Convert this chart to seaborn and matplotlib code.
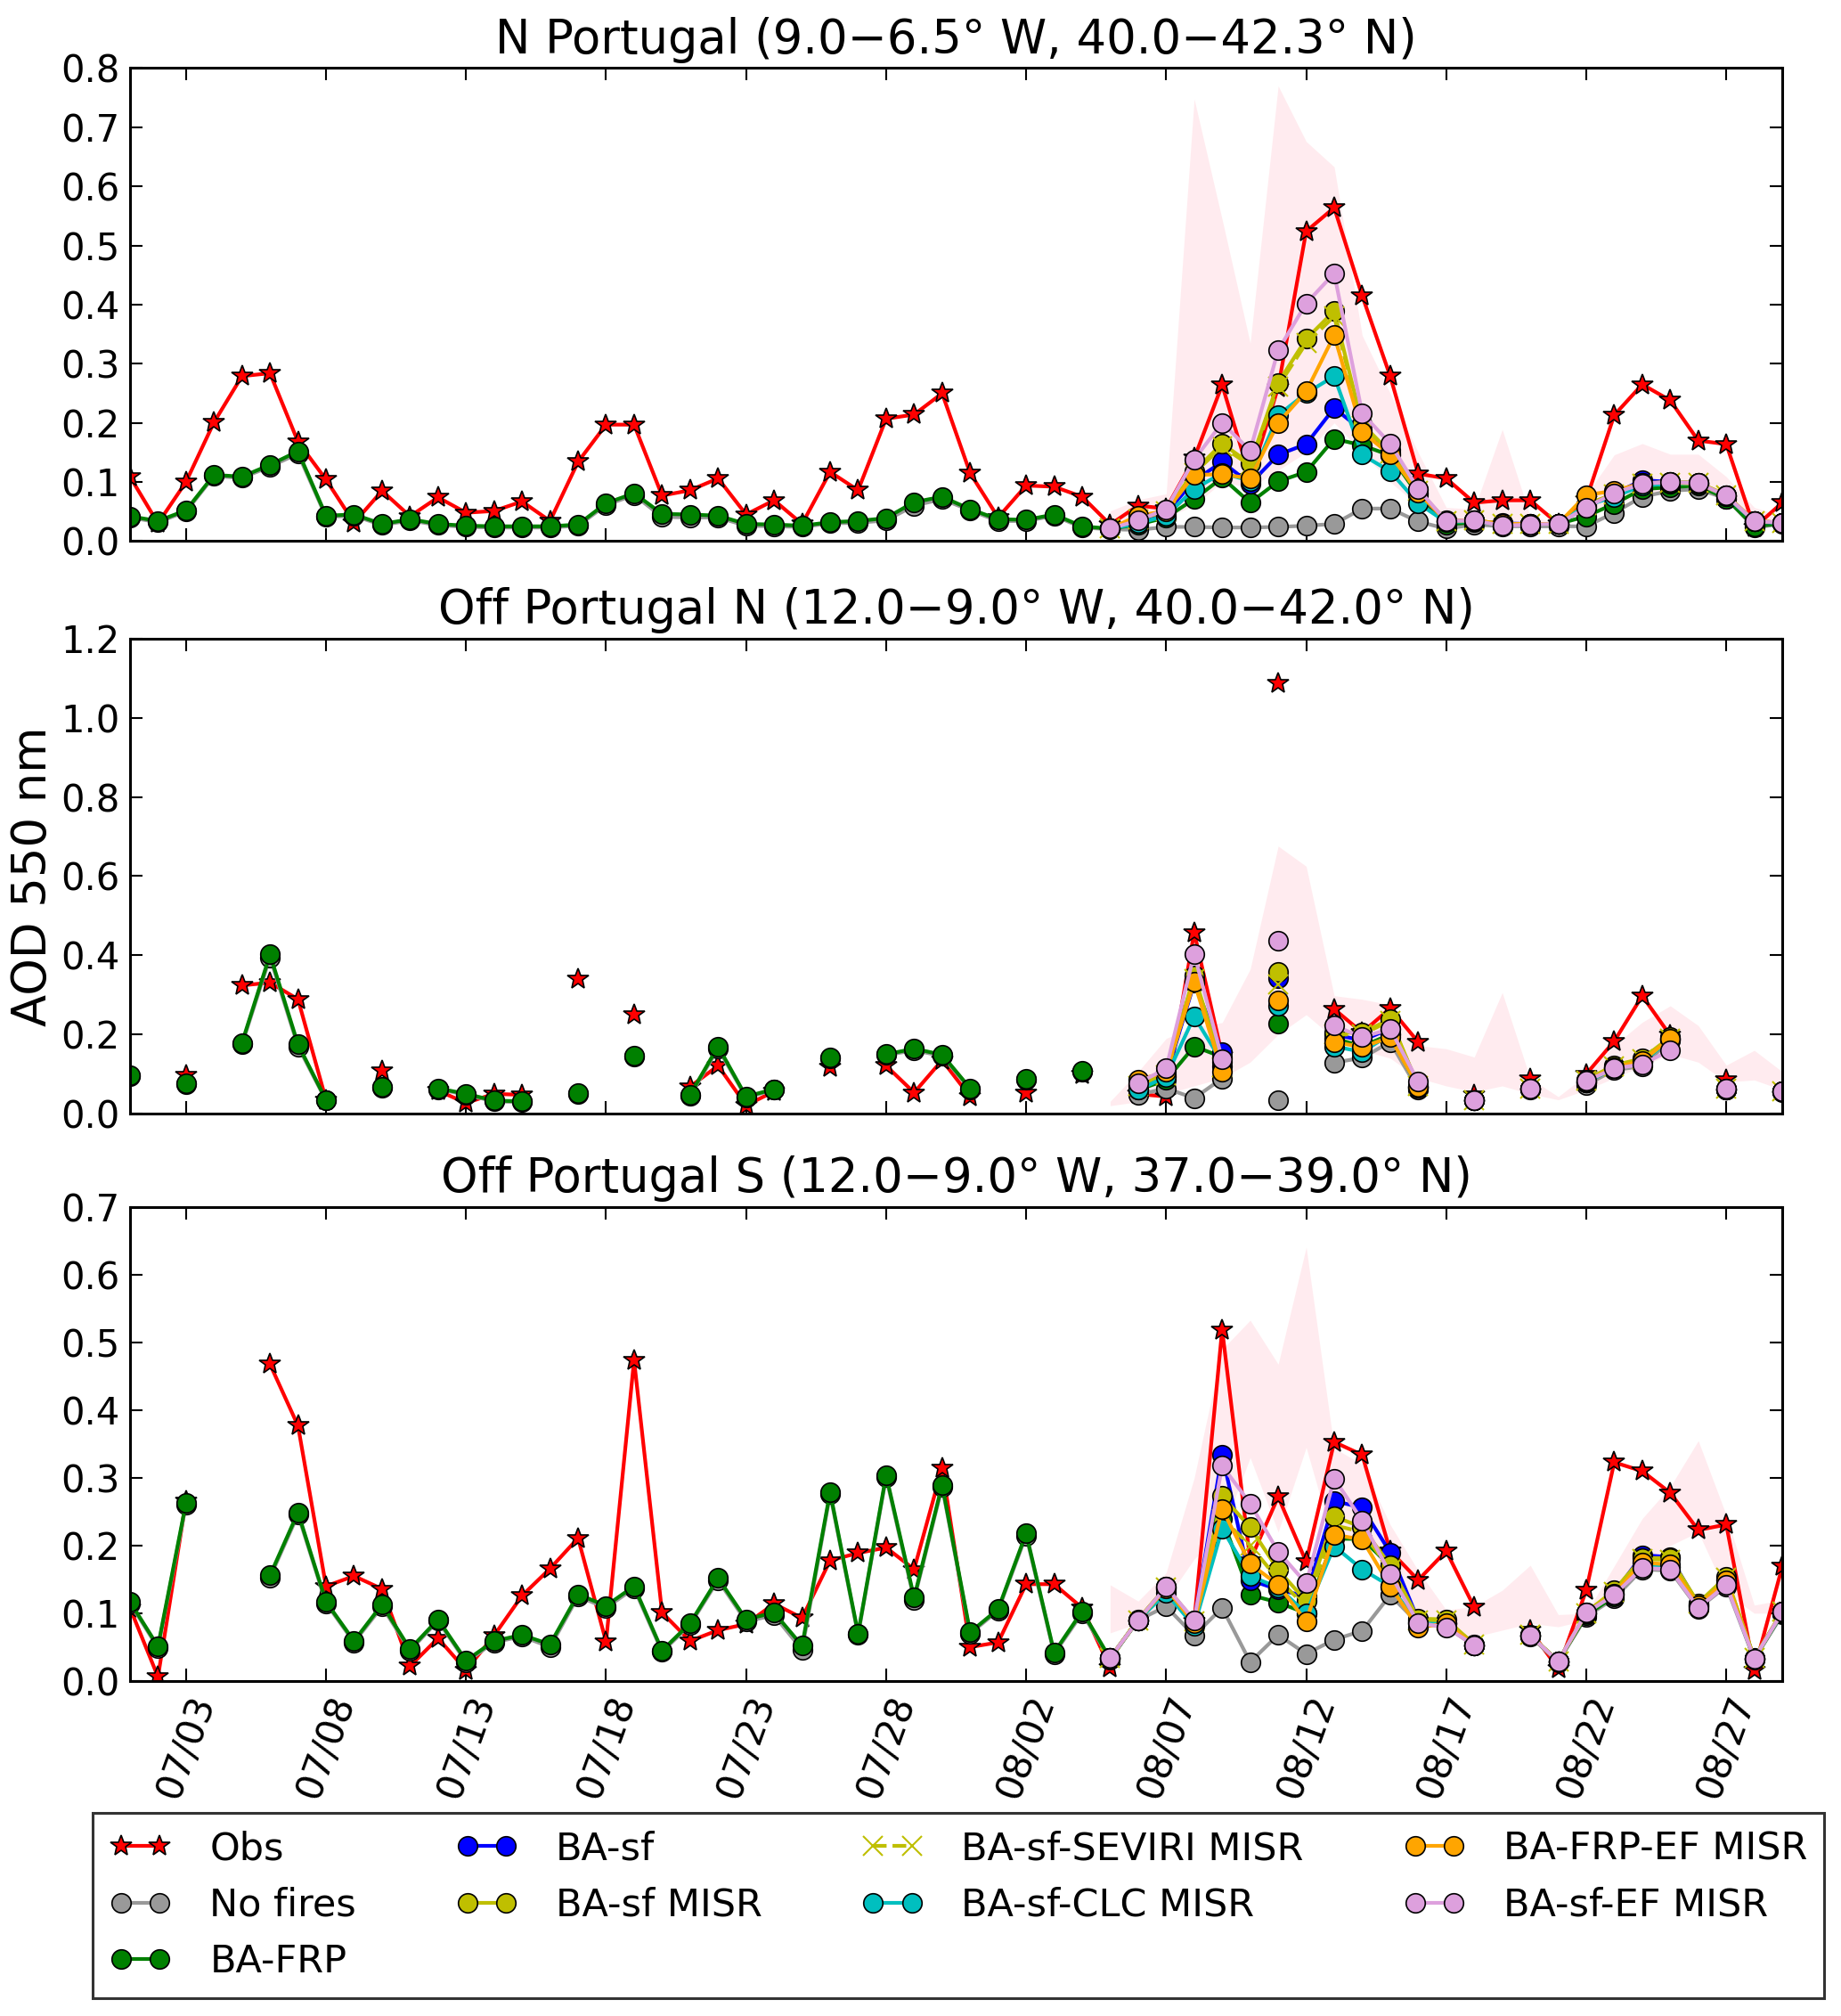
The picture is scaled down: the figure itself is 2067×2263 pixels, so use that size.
import numpy as np
import pandas as pd
import matplotlib
matplotlib.use("Agg")
import matplotlib.pyplot as plt
import matplotlib.dates as mdates
from matplotlib.lines import Line2D
from matplotlib.ticker import FormatStrFormatter
import seaborn as sns

nan = np.nan

# days 07/01 .. 08/29 (2016)
dates = pd.date_range("2016-07-01", "2016-08-29", freq="D")
tick_dates = pd.date_range("2016-07-03", "2016-08-27", freq="5D")

labels = ["Obs", "No fires", "BA-FRP", "BA-sf", "BA-sf MISR", "BA-sf-SEVIRI MISR",
          "BA-sf-CLC MISR", "BA-FRP-EF MISR", "BA-sf-EF MISR"]

titles = ["N Portugal (9.0\u22126.5\u00b0 W, 40.0\u221242.3\u00b0 N)",
          "Off Portugal N (12.0\u22129.0\u00b0 W, 40.0\u221242.0\u00b0 N)",
          "Off Portugal S (12.0\u22129.0\u00b0 W, 37.0\u221239.0\u00b0 N)"]

# ---------------- N Portugal ----------------
npt_obs = [0.109, 0.030, 0.100, 0.201, 0.279, 0.284, 0.168, 0.104, 0.031, 0.085,
           0.042, 0.074, 0.048, 0.051, 0.067, 0.034, 0.134, 0.197, 0.197, 0.077,
           0.086, 0.106, 0.045, 0.069, 0.029, 0.117, 0.086, 0.207, 0.214, 0.250,
           0.115, 0.040, 0.094, 0.092, 0.075, 0.028, 0.060, 0.055, 0.140, 0.264,
           0.107, 0.260, 0.524, 0.564, 0.415, 0.279, 0.114, 0.106, 0.065, 0.069,
           0.069, 0.029, 0.070, 0.213, 0.265, 0.238, 0.170, 0.164, 0.023, 0.065]
npt_nofire = [0.040, 0.032, 0.050, 0.110, 0.107, 0.126, 0.148, 0.041, 0.043, 0.027,
              0.035, 0.027, 0.024, 0.023, 0.023, 0.023, 0.026, 0.061, 0.078, 0.041,
              0.040, 0.040, 0.026, 0.025, 0.024, 0.030, 0.031, 0.035, 0.060, 0.071,
              0.052, 0.034, 0.034, 0.043, 0.023, 0.020, 0.019, 0.024, 0.024, 0.023,
              0.023, 0.024, 0.026, 0.029, 0.055, 0.055, 0.033, 0.021, 0.028, 0.025,
              0.025, 0.025, 0.025, 0.048, 0.075, 0.085, 0.088, 0.072, 0.023, 0.029]
npt_frp = [0.042, 0.034, 0.052, 0.112, 0.109, 0.129, 0.152, 0.043, 0.045, 0.029,
           0.037, 0.029, 0.026, 0.025, 0.025, 0.025, 0.028, 0.064, 0.081, 0.046,
           0.045, 0.043, 0.029, 0.028, 0.026, 0.032, 0.034, 0.039, 0.066, 0.075,
           0.054, 0.037, 0.036, 0.045, 0.025, 0.021, 0.028, 0.040, 0.071, 0.107,
           0.065, 0.101, 0.117, 0.173, 0.162, 0.145, 0.078, 0.028, 0.032, 0.029,
           0.028, 0.029, 0.042, 0.063, 0.088, 0.091, 0.094, 0.072, 0.025, 0.030]
# runs below cover 08/05 .. 08/29
npt_sf = [0.021, 0.032, 0.048, 0.102, 0.134, 0.097, 0.146, 0.164, 0.225, 0.187, 0.155, 0.080,
          0.035, 0.034, 0.030, 0.029, 0.029, 0.058, 0.080, 0.103, 0.100, 0.098, 0.076, 0.033, 0.031]
npt_sf_misr = [0.021, 0.038, 0.051, 0.118, 0.165, 0.131, 0.268, 0.342, 0.389, 0.198, 0.150, 0.086,
               0.034, 0.035, 0.029, 0.029, 0.029, 0.062, 0.080, 0.098, 0.100, 0.099, 0.078, 0.034, 0.031]
npt_seviri = [0.021, 0.037, 0.050, 0.115, 0.160, 0.128, 0.262, 0.335, 0.380, 0.195, 0.148, 0.085,
              0.034, 0.035, 0.029, 0.029, 0.029, 0.061, 0.079, 0.097, 0.099, 0.098, 0.077, 0.034, 0.031]
npt_clc = [0.021, 0.030, 0.043, 0.088, 0.115, 0.102, 0.213, 0.250, 0.279, 0.146, 0.118, 0.064,
           0.032, 0.034, 0.028, 0.028, 0.029, 0.060, 0.075, 0.094, 0.097, 0.097, 0.076, 0.033, 0.031]
npt_frp_ef = [0.021, 0.043, 0.051, 0.112, 0.113, 0.106, 0.200, 0.253, 0.348, 0.185, 0.146, 0.082,
              0.034, 0.035, 0.029, 0.029, 0.029, 0.078, 0.085, 0.098, 0.099, 0.097, 0.077, 0.034, 0.031]
npt_sf_ef = [0.021, 0.035, 0.054, 0.138, 0.200, 0.153, 0.323, 0.402, 0.453, 0.216, 0.165, 0.088,
             0.034, 0.035, 0.026, 0.028, 0.029, 0.057, 0.081, 0.097, 0.100, 0.098, 0.077, 0.034, 0.031]
npt_band_lo = [0.020, 0.030, 0.040, 0.060, 0.100, 0.090, 0.120, 0.150, 0.200, 0.150, 0.100, 0.060,
               0.030, 0.030, 0.030, 0.025, 0.025, 0.040, 0.060, 0.080, 0.085, 0.090, 0.070, 0.030, 0.030]
npt_band_hi = [0.051, 0.070, 0.080, 0.748, 0.544, 0.335, 0.770, 0.676, 0.633, 0.348, 0.250, 0.150,
               0.057, 0.054, 0.189, 0.042, 0.030, 0.078, 0.146, 0.165, 0.147, 0.147, 0.109, 0.057, 0.042]

# ---------------- Off Portugal N ----------------
opn_obs = [nan, nan, 0.0975, nan, 0.324, 0.331, 0.289, 0.035, nan, 0.1075,
           nan, 0.058, 0.027, 0.050, 0.0475, nan, 0.339, nan, 0.249, nan,
           0.068, 0.121, 0.021, 0.056, nan, 0.118, nan, 0.121, 0.053, 0.135,
           0.043, nan, 0.052, nan, 0.100, nan, 0.050, 0.043, 0.458, 0.147,
           nan, 1.087, nan, 0.264, 0.205, 0.266, 0.181, nan, 0.0475, nan,
           0.089, nan, 0.100, 0.183, 0.2975, 0.1975, nan, 0.085, nan, nan]
opn_nofire = [0.095, nan, 0.075, nan, 0.175, 0.395, 0.170, 0.033, nan, 0.066,
              nan, 0.062, 0.048, 0.031, 0.029, nan, 0.050, nan, 0.145, nan,
              0.045, 0.165, 0.041, 0.060, nan, 0.140, nan, 0.148, 0.160, 0.146,
              0.062, nan, 0.085, nan, 0.105, nan, 0.0475, 0.064, 0.039, 0.089,
              nan, 0.035, nan, 0.129, 0.141, 0.181, 0.060, nan, 0.033, nan,
              0.062, nan, 0.0725, 0.110, 0.120, 0.185, nan, 0.060, nan, 0.054]
opn_frp = [0.0975, nan, 0.077, nan, 0.179, 0.402, 0.175, 0.035, nan, 0.068,
           nan, 0.064, 0.050, 0.033, 0.031, nan, 0.052, nan, 0.1475, nan,
           0.0475, 0.170, 0.043, 0.062, nan, 0.142, nan, 0.150, 0.164, 0.149,
           0.064, nan, 0.087, nan, 0.1075, nan, 0.060, 0.085, 0.170, 0.143,
           nan, 0.228, nan, 0.190, 0.170, 0.200, 0.065, nan, 0.035, nan,
           0.064, nan, 0.080, 0.115, 0.130, 0.190, nan, 0.062, nan, 0.056]
opn_sf = [nan, 0.070, 0.095, 0.330, 0.156, nan, 0.343, nan, 0.200, 0.185, 0.215, 0.068, nan,
          0.035, nan, 0.064, nan, 0.080, 0.118, 0.135, 0.190, nan, 0.062, nan, 0.056]
opn_sf_misr = [nan, 0.072, 0.100, 0.350, 0.120, nan, 0.3575, nan, 0.205, 0.204, 0.239, 0.070, nan,
               0.035, nan, 0.064, nan, 0.085, 0.1225, 0.139, 0.193, nan, 0.064, nan, 0.056]
opn_seviri = [nan, 0.071, 0.098, 0.340, 0.118, nan, 0.327, nan, 0.200, 0.200, 0.235, 0.070, nan,
              0.035, nan, 0.064, nan, 0.084, 0.120, 0.137, 0.190, nan, 0.063, nan, 0.056]
opn_clc = [nan, 0.060, 0.093, 0.245, 0.130, nan, 0.2725, nan, 0.170, 0.156, 0.200, 0.065, nan,
           0.035, nan, 0.063, nan, 0.080, 0.115, 0.130, 0.188, nan, 0.062, nan, 0.056]
opn_frp_ef = [nan, 0.085, 0.105, 0.3325, 0.106, nan, 0.285, nan, 0.181, 0.168, 0.193, 0.068, nan,
              0.035, nan, 0.064, nan, 0.082, 0.117, 0.133, 0.190, nan, 0.062, nan, 0.056]
opn_sf_ef = [nan, 0.077, 0.114, 0.404, 0.1375, nan, 0.4375, nan, 0.2225, 0.193, 0.214, 0.081, nan,
             0.035, nan, 0.064, nan, 0.0825, 0.114, 0.125, 0.160, nan, 0.0625, nan, 0.056]
opn_band_lo = [0.020, 0.030, 0.050, 0.070, 0.090, 0.130, 0.200, 0.250, 0.190, 0.160, 0.140, 0.090,
               0.070, 0.055, 0.070, 0.050, 0.035, 0.060, 0.090, 0.120, 0.150, 0.130, 0.080, 0.085, 0.060]
opn_band_hi = [0.031, 0.106, 0.190, 0.220, 0.230, 0.365, 0.676, 0.625, 0.298, 0.289, 0.275, 0.172,
               0.164, 0.143, 0.306, 0.089, 0.043, 0.0975, 0.1725, 0.231, 0.2725, 0.2225, 0.1225, 0.160, 0.106]

# ---------------- Off Portugal S ----------------
ops_obs = [0.108, 0.006, 0.266, nan, nan, 0.468, 0.377, 0.140, 0.155, 0.136,
           0.022, 0.063, 0.016, 0.067, 0.126, 0.166, 0.211, 0.058, 0.474, 0.101,
           0.059, 0.075, 0.084, 0.114, 0.093, 0.178, 0.189, 0.197, 0.165, 0.315,
           0.050, 0.057, 0.143, 0.143, 0.108, 0.019, nan, nan, 0.088, 0.519,
           0.178, 0.272, 0.176, 0.353, 0.334, 0.192, 0.149, 0.192, 0.109, nan,
           0.075, 0.018, 0.134, 0.323, 0.310, 0.278, 0.223, 0.231, 0.016, 0.169]
ops_nofire = [0.115, 0.049, 0.260, nan, nan, 0.153, 0.246, 0.115, 0.057, 0.110,
              0.045, 0.089, 0.028, 0.057, 0.066, 0.050, 0.125, 0.108, 0.137, 0.043,
              0.083, 0.149, 0.088, 0.097, 0.046, 0.276, 0.068, 0.301, 0.120, 0.287,
              0.070, 0.104, 0.215, 0.040, 0.100, 0.032, 0.090, 0.110, 0.067, 0.108,
              0.028, 0.068, 0.040, 0.061, 0.074, 0.127, 0.085, 0.080, 0.052, nan,
              0.066, 0.028, 0.095, 0.122, 0.165, 0.163, 0.107, 0.140, 0.032, 0.098]
ops_frp = [0.117, 0.051, 0.263, nan, nan, 0.156, 0.249, 0.117, 0.059, 0.113,
           0.047, 0.091, 0.030, 0.059, 0.068, 0.054, 0.128, 0.111, 0.140, 0.045,
           0.085, 0.152, 0.091, 0.101, 0.052, 0.279, 0.070, 0.304, 0.123, 0.290,
           0.072, 0.106, 0.218, 0.042, 0.103, 0.033, 0.090, 0.135, 0.085, 0.240,
           0.127, 0.116, 0.100, 0.210, 0.210, 0.170, 0.088, 0.085, 0.053, nan,
           0.067, 0.029, 0.097, 0.125, 0.170, 0.168, 0.110, 0.145, 0.033, 0.100]
ops_sf = [0.034, 0.090, 0.138, 0.088, 0.334, 0.149, 0.135, 0.125, 0.266, 0.256, 0.190, 0.090, 0.085,
          0.053, nan, 0.067, 0.029, 0.100, 0.130, 0.186, 0.183, 0.113, 0.150, 0.033, 0.102]
ops_sf_misr = [0.034, 0.091, 0.139, 0.089, 0.273, 0.227, 0.164, 0.118, 0.243, 0.227, 0.171, 0.092, 0.091,
               0.054, nan, 0.068, 0.029, 0.101, 0.134, 0.182, 0.181, 0.115, 0.154, 0.034, 0.103]
ops_seviri = [0.034, 0.090, 0.138, 0.088, 0.240, 0.200, 0.150, 0.110, 0.230, 0.220, 0.165, 0.090, 0.089,
              0.054, nan, 0.068, 0.029, 0.100, 0.132, 0.180, 0.179, 0.114, 0.152, 0.034, 0.102]
ops_clc = [0.034, 0.090, 0.130, 0.081, 0.225, 0.155, 0.138, 0.100, 0.199, 0.165, 0.140, 0.085, 0.084,
           0.053, nan, 0.067, 0.029, 0.100, 0.128, 0.170, 0.168, 0.110, 0.145, 0.033, 0.101]
ops_frp_ef = [0.034, 0.090, 0.137, 0.085, 0.254, 0.173, 0.142, 0.088, 0.216, 0.209, 0.140, 0.079, 0.085,
              0.053, nan, 0.067, 0.029, 0.100, 0.129, 0.175, 0.172, 0.112, 0.148, 0.033, 0.102]
ops_sf_ef = [0.034, 0.090, 0.139, 0.090, 0.318, 0.262, 0.191, 0.144, 0.299, 0.237, 0.158, 0.086, 0.079,
             0.053, nan, 0.067, 0.029, 0.101, 0.127, 0.167, 0.165, 0.108, 0.142, 0.033, 0.102]
ops_band_lo = [0.071, 0.085, 0.120, 0.180, 0.220, 0.330, 0.220, 0.345, 0.200, 0.220, 0.150, 0.090,
               0.070, 0.065, 0.075, 0.085, 0.080, 0.090, 0.130, 0.160, 0.200, 0.220, 0.130, 0.100, 0.100]
ops_band_hi = [0.142, 0.118, 0.160, 0.300, 0.490, 0.533, 0.468, 0.641, 0.344, 0.320, 0.231, 0.163,
               0.105, 0.110, 0.134, 0.171, 0.098, 0.100, 0.170, 0.240, 0.287, 0.355, 0.245, 0.112, 0.120]

run_start = 35  # 08/05, first day of the MISR-based runs


def full(vals):
    # pad August-only runs to the full date axis
    if len(vals) == len(dates):
        return list(vals)
    return [nan] * (len(dates) - len(vals)) + list(vals)


panels = [
    dict(title=titles[0], ymax=0.8, ystep=0.1,
         series=[npt_obs, npt_nofire, npt_frp, npt_sf, npt_sf_misr, npt_seviri, npt_clc, npt_frp_ef, npt_sf_ef],
         lo=npt_band_lo, hi=npt_band_hi),
    dict(title=titles[1], ymax=1.2, ystep=0.2,
         series=[opn_obs, opn_nofire, opn_frp, opn_sf, opn_sf_misr, opn_seviri, opn_clc, opn_frp_ef, opn_sf_ef],
         lo=opn_band_lo, hi=opn_band_hi),
    dict(title=titles[2], ymax=0.7, ystep=0.1,
         series=[ops_obs, ops_nofire, ops_frp, ops_sf, ops_sf_misr, ops_seviri, ops_clc, ops_frp_ef, ops_sf_ef],
         lo=ops_band_lo, hi=ops_band_hi),
]

lw = 3
ms = 15.5
olive = (0.75, 0.75, 0.0)
cyan = (0.0, 0.75, 0.75)
styles = [
    dict(color="#ff0000", marker="*", markersize=18, mec="k", mew=1.2, lw=lw),
    dict(color="#999999", marker="o", markersize=ms, mec="k", mew=1.2, lw=lw),
    dict(color="#008000", marker="o", markersize=ms, mec="k", mew=1.2, lw=lw),
    dict(color="#0000ff", marker="o", markersize=ms, mec="k", mew=1.2, lw=lw),
    dict(color=olive, marker="o", markersize=ms, mec="k", mew=1.2, lw=lw),
    dict(color=olive, marker="x", markersize=ms, mec=olive, mew=1.5, lw=lw, ls="--"),
    dict(color=cyan, marker="o", markersize=ms, mec="k", mew=1.2, lw=lw),
    dict(color="#ffa500", marker="o", markersize=ms, mec="k", mew=1.2, lw=lw),
    dict(color="#dda0dd", marker="o", markersize=ms, mec="k", mew=1.2, lw=lw),
]

sns.set_theme(style="ticks", color_codes=False)
plt.rcParams["font.family"] = ["DejaVu Sans"]
plt.rcParams["axes.linewidth"] = 2.2
for key in ["text.color", "axes.labelcolor", "xtick.color", "ytick.color", "axes.edgecolor"]:
    plt.rcParams[key] = "black"

fig = plt.figure(figsize=(20.67, 22.63), dpi=100)
left, width = 0.0706, 0.8975
boxes = [(0.7316, 0.2346), (0.4476, 0.2356), (0.1662, 0.2350)]

for i, (p, (bot, h)) in enumerate(zip(panels, boxes)):
    ax = fig.add_axes([left, bot, width, h])
    ax.fill_between(dates[run_start:], p["lo"], p["hi"], color="pink", alpha=0.3, lw=0, zorder=0)
    for vals, st in zip(p["series"], styles):
        s = pd.Series(full(vals), dtype=float)
        df = pd.DataFrame({"date": dates, "aod": s.values, "seg": s.isna().cumsum().values}).dropna()
        sns.lineplot(data=df, x="date", y="aod", units="seg", estimator=None, ax=ax, **st)
    ax.set_xlim(dates[0], dates[-1])
    ax.set_ylim(0, p["ymax"])
    ax.set_yticks(np.arange(0, p["ymax"] + 1e-9, p["ystep"]))
    ax.yaxis.set_major_formatter(FormatStrFormatter("%.1f"))
    ax.set_xticks(tick_dates)
    ax.xaxis.set_major_formatter(mdates.DateFormatter("%m/%d"))
    ax.tick_params(direction="in", length=10, width=1.5, top=True, right=True,
                   labelsize=30, pad=8, colors="black")
    ax.set_xlabel("")
    ax.set_ylabel("AOD 550 nm" if i == 1 else "", fontsize=38, color="black")
    ax.set_title(p["title"], fontsize=38, pad=12, color="black")
    if i < 2:
        ax.tick_params(labelbottom=False)
    else:
        plt.setp(ax.get_xticklabels(), rotation=70, ha="center")
    for sp in ax.spines.values():
        sp.set_color("black")

handles = []
for st in styles:
    kw = dict(st)
    handles.append(Line2D([], [], color=kw.pop("color"), marker=kw.pop("marker"),
                          markersize=kw.pop("markersize"), markeredgecolor=kw.pop("mec"),
                          markeredgewidth=kw.pop("mew"), linewidth=kw.pop("lw"),
                          linestyle=kw.pop("ls", "-")))
leg = fig.legend(handles, labels, loc="upper left", bbox_to_anchor=(0.0503, 0.0, 0.9407, 0.1008),
                 mode="expand", ncol=4, fontsize=31, numpoints=2, handlelength=1.6,
                 handletextpad=1.0, labelspacing=0.5, borderaxespad=0.0,
                 fancybox=False, frameon=True, borderpad=0.45)
leg.get_frame().set_edgecolor("black")
leg.get_frame().set_linewidth(2.2)
for t in leg.get_texts():
    t.set_color("black")

fig.savefig("out.png", dpi=100)
